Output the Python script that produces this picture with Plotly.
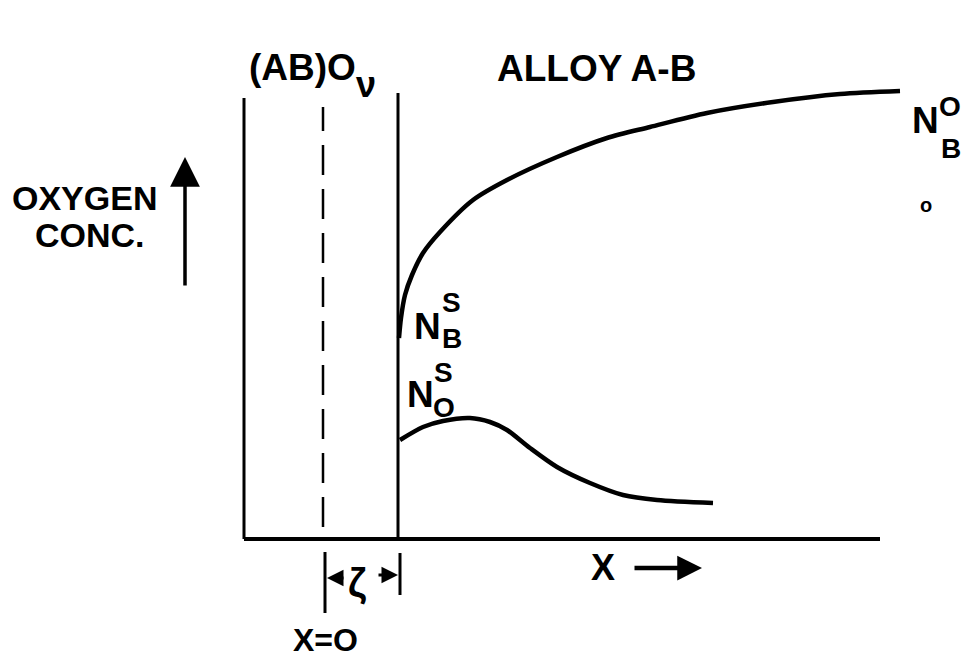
import plotly.graph_objects as go

# Diagram units: x measured from the original surface (x = 0, dashed line),
# concentration measured up from the baseline.
ZETA = 75            # thickness of the oxide grown beyond x = 0
OXIDE_LEFT = -79     # outer edge of the (AB)O_v scale

# Solute B concentration in the alloy (N_B), from N_B^S at the interface to N_B^O
nb_x = [76, 78, 82, 89, 100, 117, 150, 184, 234, 284, 327, 384, 450, 517, 577]
nb_c = [201, 221, 244, 264, 286, 307, 339, 359, 382, 401, 412, 426, 437, 445, 448]

# Dissolved oxygen concentration in the alloy (N_O), from N_O^S
no_x = [77, 100, 120, 147, 167, 184, 207, 234, 267, 300, 334, 390]
no_c = [99, 112, 118, 121, 117, 109, 91, 72, 56, 44, 39, 36]

INK = "black"
FONT = "Liberation Sans"

fig = go.Figure()

fig.add_trace(go.Scatter(x=nb_x, y=nb_c, mode="lines",
                         line=dict(color=INK, width=4.5, shape="spline", smoothing=0.8),
                         hoverinfo="skip"))
fig.add_trace(go.Scatter(x=no_x, y=no_c, mode="lines",
                         line=dict(color=INK, width=4.5, shape="spline", smoothing=0.8),
                         hoverinfo="skip"))

# frame of the sketch
fig.add_shape(type="line", x0=OXIDE_LEFT, x1=OXIDE_LEFT, y0=0, y1=441,
              line=dict(color=INK, width=3))
fig.add_shape(type="line", x0=ZETA, x1=ZETA, y0=0, y1=446,
              line=dict(color=INK, width=3))
fig.add_shape(type="line", x0=0, x1=0, y0=12, y1=432,
              line=dict(color=INK, width=2.5, dash="30px,14px"))
fig.add_shape(type="line", x0=OXIDE_LEFT, x1=557, y0=0, y1=0,
              line=dict(color=INK, width=4))

# zeta dimension marks below the baseline
fig.add_shape(type="line", x0=2, x1=2, y0=-13, y1=-74, line=dict(color=INK, width=3))
fig.add_shape(type="line", x0=ZETA + 2, x1=ZETA + 2, y0=-14, y1=-56, line=dict(color=INK, width=3))

annotations = []


def label(text, x, y, size, **kw):
    annotations.append(dict(text=text, x=x, y=y, xref="x", yref="y", showarrow=False,
                             font=dict(family=FONT, size=size, color=INK, weight="bold"),
                             xanchor="center", yanchor="middle", borderpad=0, **kw))


def arrow(x0, y0, x1, y1, width=3, size=1.6):
    annotations.append(dict(x=x1, y=y1, ax=x0, ay=y0, xref="x", yref="y",
                             axref="x", ayref="y", text="", showarrow=True,
                             arrowhead=2, arrowsize=size, arrowwidth=width,
                             arrowcolor=INK, standoff=0, startstandoff=0))


label("(AB)O", -21, 472, 37)
label("ν", 43, 455, 36)
label("ALLOY A-B", 273, 471, 37)

label("OXYGEN", -239, 341, 34)
label("CONC.", -233, 304, 34)
arrow(-138, 252, -138, 382, width=3.5, size=1.7)

label("N", 104, 213, 37)
label("S", 128, 237, 28)
label("B", 129, 201, 28)

label("N", 97, 145, 37)
label("S", 120, 167, 28)
label("O", 121, 132, 28)

label("N", 602, 419, 37)
label("O", 627, 433, 28)
label("B", 628, 391, 28)
label("o", 603, 334, 20)

label("X", 280, -28, 36)
arrow(310, -29, 379, -29, width=4.5, size=1.1)

label("ζ", 34, -44, 40)
arrow(22, -39, 4, -39, width=3, size=1.1)
arrow(54, -36, 75, -36, width=3, size=1.1)
label("X=O", 2, -101, 32)

fig.update_layout(
    width=964, height=660,
    margin=dict(l=0, r=0, t=0, b=0),
    paper_bgcolor="white", plot_bgcolor="white",
    showlegend=False,
    xaxis=dict(range=[-323, 641], visible=False, fixedrange=True),
    yaxis=dict(range=[-121, 539], visible=False, fixedrange=True),
    annotations=annotations,
)

fig.write_html("out.html")
